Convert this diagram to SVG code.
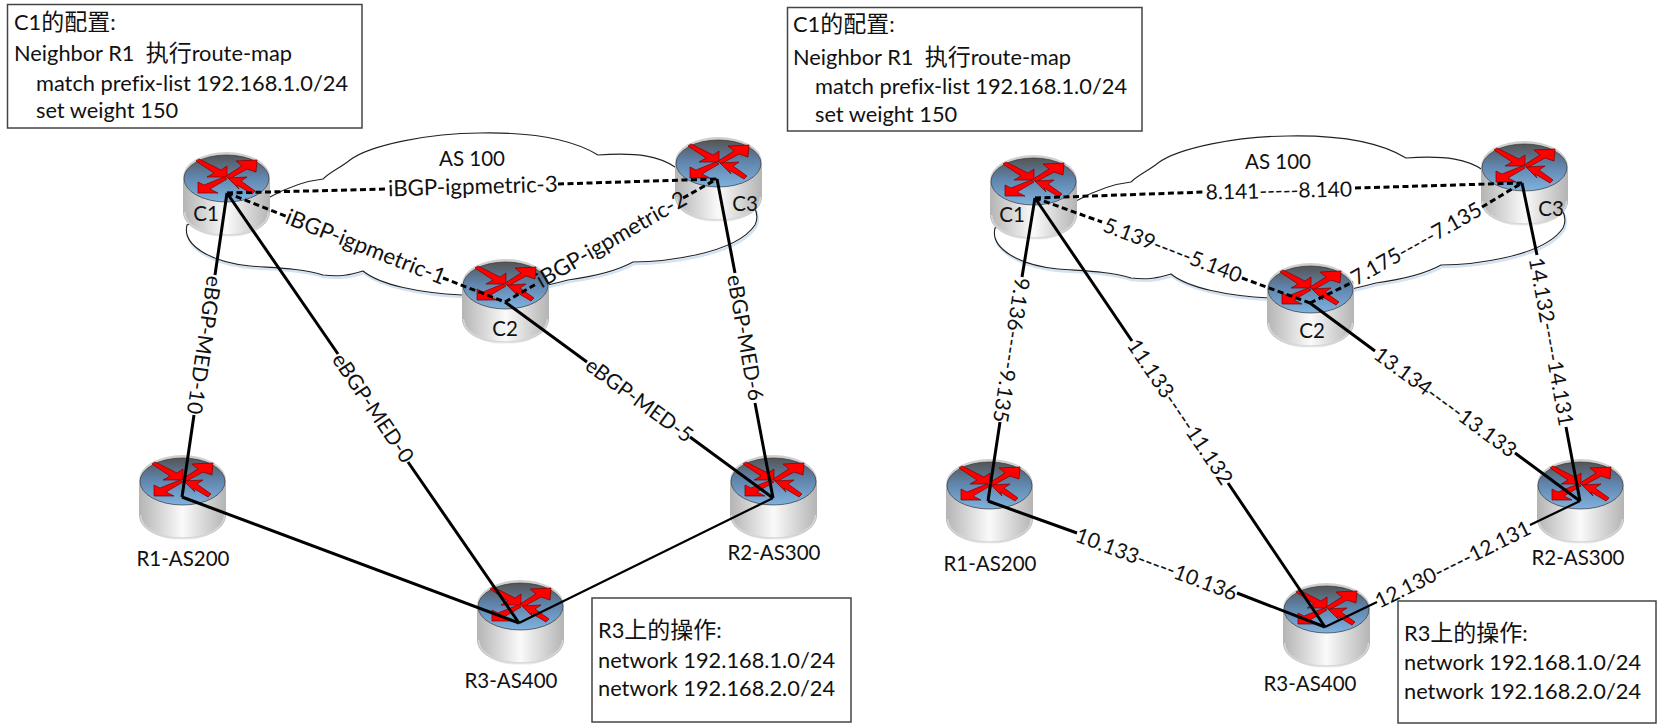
<svg xmlns="http://www.w3.org/2000/svg" width="1657" height="724" viewBox="0 0 1657 724">
<style>
text{font-family:"Lato","Noto Sans CJK SC",sans-serif;font-size:21.800px;fill:#111;white-space:pre;font-variant-ligatures:none}
.z{font-family:"Noto Sans CJK SC",sans-serif;font-size:23px}
.l{font-size:21px;text-anchor:middle}
.i{font-size:22.300px;text-anchor:middle}
.n{font-size:20.500px;text-anchor:middle}
.box{fill:#fff;stroke:#444;stroke-width:1.5}
.cl{fill:#fff;stroke:#222;stroke-width:1.1}
.sh{fill:none;stroke:#d3e3f3;stroke-width:2.5}
.s{fill:none;stroke:#000;stroke-width:3}
.t{fill:none;stroke:#000;stroke-width:2.2}
.d{fill:none;stroke:#000;stroke-width:3;stroke-dasharray:6 3.5}
.a{fill:#f00;stroke:#700;stroke-width:.7;stroke-linejoin:miter}
</style>
<defs>
<linearGradient id="body" x1="0" x2="1" y1="0" y2="0"><stop offset="0" stop-color="#b4b4b4"/><stop offset=".5" stop-color="#fafafa"/><stop offset="1" stop-color="#b4b4b4"/></linearGradient>
<linearGradient id="top" x1="0" x2="0" y1="0" y2="1"><stop offset="0" stop-color="#555"/><stop offset=".45" stop-color="#5f84ab"/><stop offset="1" stop-color="#7fb2e0"/></linearGradient>
<g id="router">
<path d="M0 25V60C0 74 20 85 43.500 85S87 74 87 60V25Z" fill="url(#body)"/>
<path d="M1.500 60C1.500 73 20 83 43.500 83S85.500 73 85.500 60" fill="none" stroke="#d6d6d6" stroke-width="1.500"/>
<ellipse cx="43.500" cy="25" rx="43.500" ry="25" fill="#cfcfcf"/>
<ellipse cx="43.500" cy="26.500" rx="42.500" ry="23.500" fill="url(#top)" stroke="#333" stroke-width=".7"/>
<path class="a" d="M13 9 16 7 38 18 44 14 44 25 24 25 31 21Z"/>
<path class="a" d="M74 8 53 9 59 14 43 24 46 27 64 17 73 20Z"/>
<path class="a" d="M15 41 15 30 21 33 41 25 44 27 27 37 35 41Z"/>
<path class="a" d="M45 26 64 25 58 29 72 39 69 42 54 33 56 37Z"/>
</g>
<path id="cloud" d="M187 225C182 245 210 262 250 266C275 268 300 268 323 275C340 277 350 275 363 271C380 285 420 293 462 295C500 297 530 290 568 280C590 277 615 272 633 262C660 262 735 255 755 225C760 215 755 205 745 195C750 180 700 165 675 167C660 157 640 152 598 155C570 138 530 132 480 133C430 133 370 145 350 160C340 168 330 172 323 179C305 181 290 186 270 197Z"/>
</defs>

<g id="cloud-left"><use href="#cloud" class="sh" x="1" y="2"/><use href="#cloud" class="cl"/></g>
<g id="cloud-right"><use href="#cloud" class="sh" x="809" y="5"/><use href="#cloud" class="cl" x="808" y="3"/></g>

<g id="C1-left"><use href="#router" x="183" y="152"/></g>
<g id="C2-left"><use href="#router" x="462" y="259"/></g>
<g id="C3-left"><use href="#router" x="675" y="137"/></g>
<g id="R1-left"><use href="#router" x="139" y="455"/></g>
<g id="R2-left"><use href="#router" x="730" y="455"/></g>
<g id="R3-left"><use href="#router" x="477" y="580"/></g>
<g id="C1-right"><use href="#router" x="990" y="155"/></g>
<g id="C2-right"><use href="#router" x="1267" y="263"/></g>
<g id="C3-right"><use href="#router" x="1481" y="141"/></g>
<g id="R1-right"><use href="#router" x="946" y="459"/></g>
<g id="R2-right"><use href="#router" x="1537" y="459"/></g>
<g id="R3-right"><use href="#router" x="1283" y="583"/></g>

<g id="connectors">
<path class="d" d="M227 193 388 189M558 184 717 179"/>
<path class="d" d="M227 193 288 217M443 278 505 302"/>
<path class="d" d="M505 302 538 283M683 198 717 179"/>
<path class="s" d="M227 193 215 275M194 415 182 497"/>
<path class="s" d="M227 193 338 354M408 462 519 623"/>
<path class="s" d="M505 302 587 362M690 437 773 498"/>
<path class="s" d="M717 179 735 273M755 403 773 498"/>
<path class="s" d="M182 497 519 623"/>
<path class="t" d="M519 623 773 498"/>
<path class="d" d="M1035 198 1205 192M1355 188 1522 183"/>
<path class="d" d="M1035 198 1102 222M1242 278 1310 303"/>
<path class="d" d="M1310 303 1353 282M1482 207 1522 183"/>
<path class="s" d="M1035 198 1022 277M1000 422 988 501"/>
<path class="s" d="M1035 198 1132 341M1228 483 1325 627"/>
<path class="s" d="M1310 303 1375 351M1515 453 1580 501"/>
<path class="s" d="M1522 183 1537 255M1566 427 1580 501"/>
<path class="s" d="M988 501 1077 533M1237 593 1325 627"/>
<path class="t" d="M1325 627 1377 602M1530 525 1580 501"/>
</g>

<g id="labels-left">
<text class="n" x="472" y="166">AS 100</text>
<text class="i" transform="translate(473 194) rotate(-1.600)">iBGP-igpmetric-3</text>
<text class="i" transform="translate(363 254) rotate(21.400)">iBGP-igpmetric-1</text>
<text class="i" transform="translate(615 246) rotate(-30)">iBGP-igpmetric-2</text>
<text class="l" transform="translate(197 344) rotate(98.400)">eBGP-MED-10</text>
<text class="l" transform="translate(367 412) rotate(55.800)">eBGP-MED-0</text>
<text class="l" transform="translate(635 406) rotate(36.200)">eBGP-MED-5</text>
<text class="l" transform="translate(738 339) rotate(80)">eBGP-MED-6</text>
<text class="n" x="206" y="221">C1</text>
<text class="n" x="505" y="336">C2</text>
<text class="n" x="745" y="211">C3</text>
<text class="n" x="183" y="566">R1-AS200</text>
<text class="n" x="774" y="560">R2-AS300</text>
<text class="n" x="511" y="688">R3-AS400</text>
</g>
<g id="labels-right">
<text class="n" x="1278" y="169">AS 100</text>
<text class="l" transform="translate(1279 198) rotate(-1.200)">8.141-----8.140</text>
<text class="l" transform="translate(1170 257) rotate(20.900)">5.139-----5.140</text>
<text class="l" transform="translate(1420 250) rotate(-29.500)">7.175-----7.135</text>
<text class="l" transform="translate(1004 349) rotate(98.800)">9.136-----9.135</text>
<text class="l" transform="translate(1174 416) rotate(55.900)">11.133-----11.132</text>
<text class="l" transform="translate(1441 408) rotate(36.300)">13.134-----13.133</text>
<text class="l" transform="translate(1544 343) rotate(79.700)">14.132-----14.131</text>
<text class="l" transform="translate(1154 571) rotate(20.500)">10.133-----10.136</text>
<text class="l" transform="translate(1456 571) rotate(-26.300)">12.130-----12.131</text>
<text class="n" x="1012" y="222">C1</text>
<text class="n" x="1312" y="338">C2</text>
<text class="n" x="1551" y="216">C3</text>
<text class="n" x="990" y="571">R1-AS200</text>
<text class="n" x="1578" y="565">R2-AS300</text>
<text class="n" x="1310" y="691">R3-AS400</text>
</g>

<g id="box-c1-left">
<rect class="box" x="7.500" y="4.500" width="354.500" height="123.500"/>
<text x="14" y="30">C1<tspan class="z">的配置</tspan>:</text>
<text x="14" y="61">Neighbor R1  <tspan class="z">执行</tspan>route-map</text>
<text x="36" y="91">match prefix-list 192.168.1.0/24</text>
<text x="36" y="118">set weight 150</text>
</g>
<g id="box-c1-right">
<rect class="box" x="787.500" y="7.500" width="354.500" height="123.500"/>
<text x="793" y="32">C1<tspan class="z">的配置</tspan>:</text>
<text x="793" y="65">Neighbor R1  <tspan class="z">执行</tspan>route-map</text>
<text x="815" y="94">match prefix-list 192.168.1.0/24</text>
<text x="815" y="122">set weight 150</text>
</g>
<g id="box-r3-left">
<rect class="box" x="592" y="598" width="259" height="124"/>
<text x="598" y="638">R3<tspan class="z">上的操作</tspan>:</text>
<text x="598" y="668">network 192.168.1.0/24</text>
<text x="598" y="696">network 192.168.2.0/24</text>
</g>
<g id="box-r3-right">
<rect class="box" x="1398" y="601" width="258" height="122"/>
<text x="1404" y="641">R3<tspan class="z">上的操作</tspan>:</text>
<text x="1404" y="670">network 192.168.1.0/24</text>
<text x="1404" y="699">network 192.168.2.0/24</text>
</g>
</svg>
